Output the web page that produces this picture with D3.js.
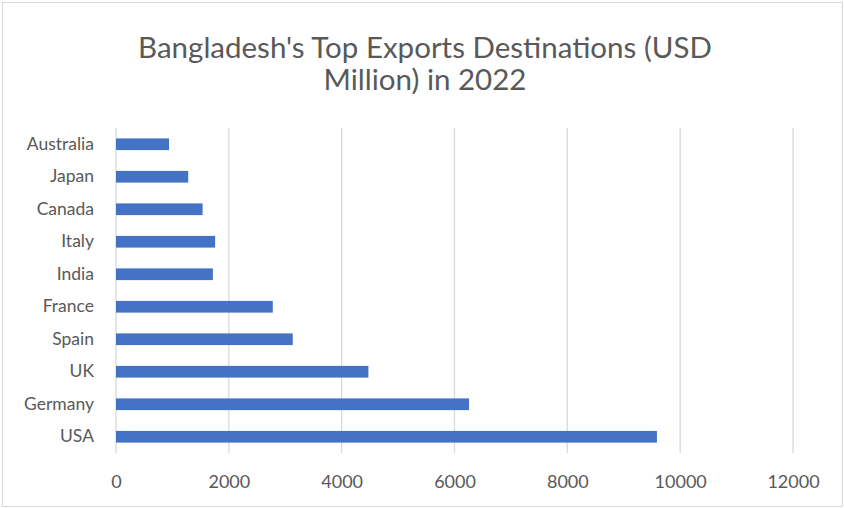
<!DOCTYPE html>
<html>
<head>
<meta charset="utf-8">
<script src="https://cdn.jsdelivr.net/npm/d3@7"></script>
<style>
  body { margin: 0; background: #fff; }
  svg text { font-family: Lato, "Open Sans", sans-serif; fill: #595959; }
</style>
</head>
<body>
<div id="chart"></div>
<script>
const width = 844;
const height = 508;

// data, top to bottom as drawn
const countries = ['Australia', 'Japan', 'Canada', 'Italy', 'India', 'France', 'Spain', 'UK', 'Germany', 'USA'];
const exportsUsd = [940, 1280, 1535, 1757, 1717, 2779, 3133, 4474, 6258, 9588];
const xTicks = [0, 2000, 4000, 6000, 8000, 10000, 12000];
const titleLines = ["Bangladesh's Top Exports Destinations (USD", 'Million) in 2022'];

const data = countries.map((c, i) => ({ country: c, value: exportsUsd[i] }));

const plot = { left: 116, right: 793, top: 128, bottom: 453 };

const x = d3.scaleLinear().domain([0, 12000]).range([plot.left, plot.right]);
const y = d3.scaleBand().domain(countries).range([plot.top, plot.bottom]).paddingInner(0.64).paddingOuter(0.32);

const svg = d3.select('#chart').append('svg')
  .attr('width', width)
  .attr('height', height);

// chart border
svg.append('rect')
  .attr('x', 2.5).attr('y', 2.5)
  .attr('width', width - 4).attr('height', height - 4)
  .attr('fill', '#fff')
  .attr('stroke', '#d9d9d9')
  .attr('stroke-width', 1);

// title
svg.append('g')
  .selectAll('text')
  .data(titleLines)
  .join('text')
  .attr('x', 425)
  .attr('y', (d, i) => 58 + i * 32)
  .attr('text-anchor', 'middle')
  .attr('font-size', 29.5)
  .text((d) => d);

// gridlines
svg.append('g')
  .selectAll('line')
  .data(xTicks)
  .join('line')
  .attr('x1', (d) => x(d)).attr('x2', (d) => x(d))
  .attr('y1', plot.top).attr('y2', plot.bottom)
  .attr('stroke', '#d9d9d9')
  .attr('stroke-width', 1.3);

// bars
svg.append('g')
  .selectAll('rect')
  .data(data)
  .join('rect')
  .attr('x', x(0))
  .attr('y', (d) => y(d.country))
  .attr('width', (d) => x(d.value) - x(0))
  .attr('height', y.bandwidth())
  .attr('fill', '#4472c4');

// x axis labels
const xAxis = d3.axisBottom(x).tickValues(xTicks).tickSize(0).tickPadding(22).tickFormat(d3.format('d'));
svg.append('g')
  .attr('transform', `translate(0,${plot.bottom})`)
  .call(xAxis)
  .call((g) => g.select('.domain').remove())
  .call((g) => g.selectAll('text').attr('font-size', 18).attr('font-family', null).attr('fill', '#595959'));

// y axis labels
const yAxis = d3.axisLeft(y).tickSize(0).tickPadding(22);
svg.append('g')
  .attr('transform', `translate(${plot.left},0)`)
  .call(yAxis)
  .call((g) => g.select('.domain').remove())
  .call((g) => g.selectAll('text').attr('font-size', 17.5).attr('font-family', null).attr('fill', '#595959'));
</script>
</body>
</html>
